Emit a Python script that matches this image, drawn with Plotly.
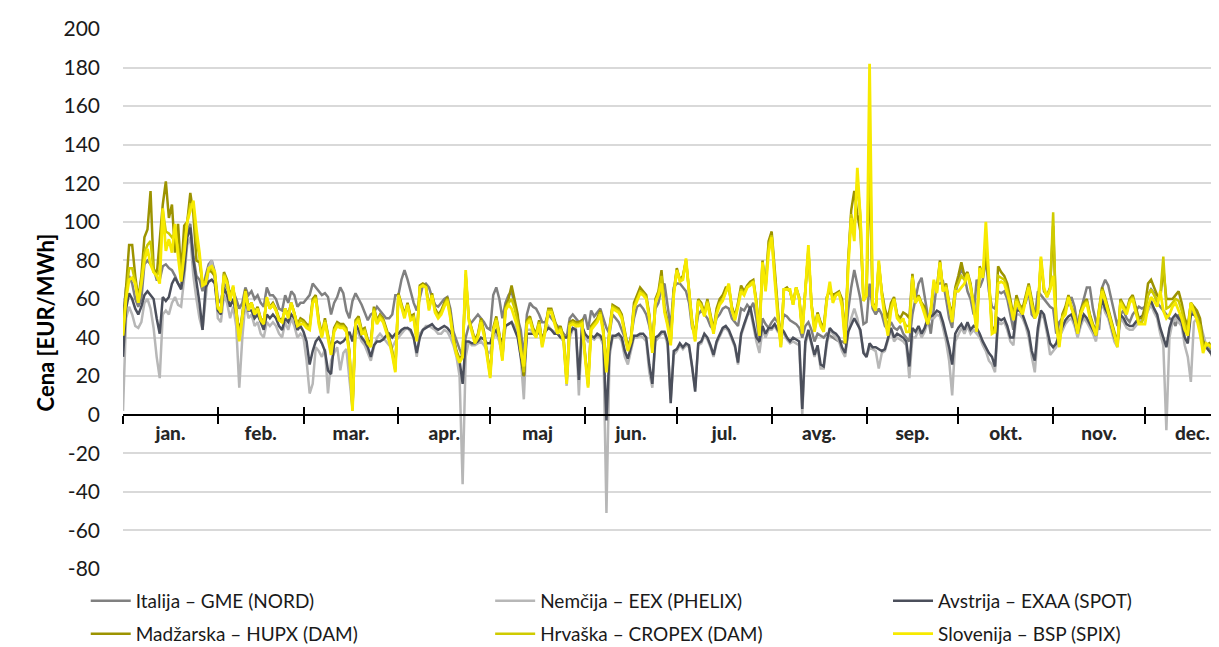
import pandas as pd
import plotly.graph_objects as go

# ---------------- data (daily prices, EUR/MWh, from 2017-01-01) ----------------
month_labels = ["jan.", "feb.", "mar.", "apr.", "maj", "jun.", "jul.", "avg.", "sep.", "okt.", "nov.", "dec."]
y_ticks = list(range(-80, 201, 20))
y_tick_text = [str(v) for v in y_ticks]

italija = [
    50,66,72,68,60,56,60,78,80,78,76,70,70,77,78,76,75,72,68,66,85,95,99,82,72,70,64,72,78,80,74,
    60,58,68,66,62,64,60,55,58,66,62,64,60,62,58,56,66,62,62,60,55,54,62,58,64,62,56,58,
    58,60,62,68,66,64,62,63,61,52,58,61,66,63,54,50,59,63,60,57,53,49,52,53,56,54,52,50,50,52,62,
    62,70,75,70,64,58,54,60,67,68,66,61,57,56,58,60,61,55,43,38,34,30,40,46,48,50,52,50,48,45,
    44,62,66,60,50,58,62,64,56,50,44,30,52,58,56,55,52,48,48,52,50,48,46,44,42,40,50,52,50,48,48,
    52,44,54,51,53,55,50,45,42,52,50,48,44,40,34,40,50,56,57,55,52,46,38,55,58,66,68,55,45,66,
    68,68,66,64,58,45,42,52,54,52,50,46,44,50,52,55,56,55,50,48,46,55,54,57,55,58,50,37,50,47,45,
    48,50,48,44,52,51,49,48,47,45,40,46,48,44,38,42,41,40,42,41,40,39,38,38,37,54,66,75,68,60,47,
    48,68,55,52,55,52,46,44,48,45,44,46,42,40,38,52,60,68,71,62,52,42,55,68,68,69,60,50,45,62,
    70,76,72,64,60,52,70,66,70,81,64,56,55,64,63,64,60,52,44,55,56,56,58,64,52,50,64,62,60,58,56,
    55,42,48,50,54,58,61,56,46,54,60,66,66,55,48,44,66,70,67,60,52,46,52,54,50,48,52,54,56,55,
    56,62,65,63,58,56,54,52,50,49,46,52,48,44,46,52,56,52,44,38,36,34,30,26,21,22,
]

nemcija = [
    2,50,56,52,46,45,48,58,60,55,45,30,19,52,54,52,58,61,57,56,71,88,92,72,60,50,44,62,76,80,70,
    50,48,62,58,50,56,46,14,40,58,50,52,46,48,42,40,48,46,48,46,42,40,48,44,50,46,40,42,
    40,28,11,16,35,33,30,34,11,28,32,35,23,32,34,20,3,44,42,38,36,32,28,35,40,42,40,38,36,35,38,
    40,42,44,45,43,40,30,42,44,46,46,45,44,42,42,44,43,40,36,30,20,-36,30,38,36,36,37,38,36,33,
    32,40,42,38,30,46,47,48,46,42,30,8,44,44,43,41,44,38,43,46,44,43,42,40,38,15,40,44,45,10,44,
    40,38,40,39,41,40,36,-51,30,40,40,41,38,30,26,33,40,40,41,40,38,22,14,38,40,42,42,36,8,31,
    33,36,34,36,35,24,14,36,37,41,39,35,30,37,41,44,45,43,39,35,26,41,46,51,54,46,38,32,44,40,44,
    44,46,43,44,42,39,37,38,37,36,0,36,43,36,30,35,24,24,36,44,42,40,38,33,30,42,50,55,50,42,33,
    30,35,34,33,24,32,33,38,44,38,40,39,38,36,19,40,40,44,40,43,48,50,50,52,51,45,38,28,10,38,
    42,45,42,46,42,44,42,40,36,33,28,26,22,48,47,48,44,38,36,52,52,50,46,40,30,22,42,52,50,42,31,
    33,35,40,44,47,49,50,46,40,46,50,48,45,42,38,50,58,53,50,44,38,35,50,48,45,44,44,46,48,49,
    50,54,57,53,50,42,36,-8,40,48,50,48,46,36,30,17,48,50,48,42,36,33,31,28,25,23,
]

avstrija = [
    30,55,63,60,55,52,56,62,64,62,60,50,42,61,59,61,68,71,68,65,75,92,97,80,69,58,44,66,69,70,68,
    54,52,66,62,56,60,52,44,50,60,54,54,50,52,48,44,52,50,52,50,46,44,50,48,52,50,44,46,
    43,38,26,33,38,40,37,33,23,21,37,38,37,38,40,43,38,47,44,40,38,35,30,36,38,38,39,41,42,40,42,
    42,44,45,45,44,40,32,40,44,45,46,47,45,44,45,46,45,43,40,32,28,16,38,38,37,37,38,40,39,37,
    37,42,44,40,38,46,47,48,44,40,30,20,42,42,42,41,43,40,43,45,44,42,42,40,40,40,42,45,44,18,46,
    42,40,41,40,42,41,38,-3,33,41,41,42,40,33,29,35,41,41,42,42,40,26,16,40,41,43,43,38,6,33,
    34,37,35,37,36,25,12,37,38,42,40,36,31,38,42,45,46,44,40,36,27,42,47,52,56,48,40,38,46,42,45,
    45,47,44,45,43,40,38,40,39,38,3,38,44,38,31,36,26,25,38,45,43,42,40,35,32,43,47,50,47,44,32,
    30,37,35,35,34,33,34,40,45,40,42,41,40,38,25,45,43,46,42,45,50,51,52,54,53,48,42,35,26,42,
    45,47,44,48,44,46,45,42,38,35,32,30,25,50,49,50,46,40,40,54,54,52,48,43,33,28,45,54,52,45,37,
    35,37,42,46,49,51,52,48,42,48,52,50,47,44,41,52,60,55,52,46,40,37,52,50,47,46,46,48,50,51,
    52,56,59,55,52,45,40,35,45,50,52,50,48,40,37,52,52,50,44,38,35,33,31,28,24,22,
]

madzarska = [
    44,66,88,88,72,60,72,92,96,116,76,72,90,109,121,102,109,84,99,73,98,100,115,104,80,79,68,70,75,74,72,
    56,54,74,70,62,66,55,40,52,65,56,58,53,56,50,48,60,56,58,55,50,49,55,52,58,53,47,50,
    49,47,46,60,62,49,42,50,42,33,45,48,47,47,45,33,4,49,51,44,45,39,37,56,49,52,50,45,40,33,24,
    63,58,52,58,51,52,40,67,68,67,56,63,55,52,54,58,61,52,40,33,29,31,72,50,45,39,42,50,43,32,
    21,45,51,42,30,56,60,67,60,52,35,20,49,51,45,42,49,37,45,55,55,49,44,46,40,18,48,49,48,48,49,
    32,16,46,48,50,54,44,24,45,57,56,55,52,44,35,40,58,62,66,64,62,52,34,60,64,75,56,48,38,64,
    76,70,72,80,64,49,40,60,58,53,60,52,44,55,60,62,66,66,56,51,58,67,64,67,69,70,59,42,80,66,90,
    95,75,56,36,65,66,64,58,66,61,44,65,85,58,45,53,48,45,61,64,62,63,64,60,40,80,106,116,104,95,60,
    62,130,58,55,78,64,55,50,58,61,52,50,53,52,50,73,58,62,58,56,47,54,68,66,80,65,68,58,52,66,
    72,79,72,74,68,58,46,77,72,82,70,46,43,77,74,72,68,60,51,62,57,55,62,68,60,52,55,80,64,62,66,
    98,50,38,52,56,62,56,52,44,54,58,60,52,47,43,55,66,61,55,49,42,37,60,57,54,60,62,56,50,50,
    56,68,70,66,62,60,76,60,60,60,62,64,58,50,46,58,56,54,50,38,36,37,34,31,30,29,
]

hrvaska = [
    42,62,76,76,69,58,69,84,88,90,74,72,75,106,95,94,92,94,86,70,88,100,109,108,90,82,68,69,75,76,73,
    55,54,73,69,60,66,55,39,51,64,55,58,52,55,50,48,60,55,57,54,49,48,55,51,58,53,46,49,
    48,46,45,59,61,48,41,49,41,32,44,47,46,46,44,32,3,48,50,43,44,38,36,55,48,51,49,44,39,32,23,
    62,57,51,57,50,51,39,66,67,66,55,62,54,51,53,57,60,51,39,32,28,30,73,50,44,38,41,49,42,31,
    20,44,50,41,29,55,58,60,55,48,34,22,48,50,44,41,48,36,44,54,54,48,43,45,39,17,47,48,47,47,48,
    31,15,45,47,49,53,43,23,44,56,55,54,51,43,34,39,56,60,64,63,61,51,33,59,63,72,54,47,37,63,
    75,70,71,80,63,48,39,59,57,52,59,51,43,53,58,60,64,67,55,50,57,65,63,66,68,69,58,41,79,65,88,
    93,72,53,35,65,65,64,57,66,60,43,64,86,57,44,52,47,44,60,66,60,62,63,58,38,78,104,95,122,103,59,
    62,150,57,54,79,63,52,45,56,60,51,49,49,46,46,72,58,61,57,54,47,54,69,64,79,64,67,57,50,65,
    68,72,70,73,67,57,44,76,71,90,70,44,43,72,71,70,65,58,50,60,56,53,60,67,58,51,54,81,65,61,65,
    105,48,36,51,54,61,55,51,43,53,57,59,51,46,42,54,65,60,54,48,41,36,59,56,53,59,61,54,48,48,
    52,62,65,62,59,62,82,55,56,58,60,59,54,47,43,58,54,51,46,35,36,36,34,30,29,28,
]

slovenija = [
    41,60,70,71,68,58,68,80,86,78,74,72,68,107,85,91,84,99,82,69,83,100,106,111,96,84,67,68,76,77,74,
    56,53,72,68,59,67,54,38,50,64,54,58,52,55,49,47,61,55,57,54,49,48,55,50,58,52,46,47,
    47,45,44,58,60,47,40,48,40,31,43,46,45,45,43,31,2,47,49,42,43,37,35,54,47,50,48,43,38,31,22,
    62,56,50,57,49,50,38,66,67,66,54,62,53,50,52,56,59,50,38,31,27,30,75,49,43,37,40,48,41,30,
    19,43,49,40,28,54,57,55,50,45,33,25,47,49,43,40,47,35,43,53,53,47,42,44,38,16,46,47,46,46,47,
    30,14,44,46,48,52,42,22,43,55,54,53,50,42,33,38,55,59,63,62,60,50,32,58,62,68,53,46,36,62,
    75,69,70,81,63,47,38,59,56,51,58,50,42,52,57,59,63,68,54,49,56,64,62,66,67,69,57,41,79,64,84,
    92,70,50,35,65,65,65,57,66,60,42,64,88,57,43,52,46,43,59,69,58,62,63,56,37,76,102,90,128,102,59,
    62,182,57,54,80,62,50,41,54,60,50,48,50,43,43,71,58,61,57,52,47,54,70,63,79,64,66,57,48,64,
    64,66,68,73,66,56,43,76,71,100,71,42,43,68,69,68,63,57,49,59,55,52,59,66,57,50,53,82,66,61,65,
    72,47,35,50,52,61,55,50,42,52,56,58,50,45,41,53,64,59,53,47,40,35,58,55,52,58,60,53,47,47,
    47,56,61,59,56,64,54,50,52,56,58,54,50,44,41,58,53,49,42,32,37,36,35,30,28,27,
]

series = [
    ("Italija – GME (NORD)", italija, "#808080", 2.5),
    ("Nemčija – EEX (PHELIX)", nemcija, "#b7b7b7", 2.5),
    ("Avstrija – EXAA (SPOT)", avstrija, "#4b4f5b", 2.5),
    ("Madžarska – HUPX (DAM)", madzarska, "#9c9300", 2.5),
    ("Hrvaška – CROPEX (DAM)", hrvaska, "#cfcb00", 2.5),
    ("Slovenija – BSP (SPIX)", slovenija, "#f7ea00", 2.8),
]

start = pd.Timestamp("2017-01-01")
month_starts = pd.date_range("2017-01-01", periods=12, freq="MS")
month_ends = pd.date_range("2017-02-01", periods=12, freq="MS")
month_mids = month_starts + (month_ends - month_starts) / 2
x_end = start + pd.Timedelta(days=358.2)

FONT = "Lato"
fig = go.Figure()

# legend placement (one legend per entry so the grid matches the original)
leg_x = [-0.034, 0.335, 0.698]
leg_y = [-0.059, -0.12]
legend_names = ["legend", "legend2", "legend3", "legend4", "legend5", "legend6"]

for i, (name, vals, color, w) in enumerate(series):
    xs = pd.date_range(start, periods=len(vals), freq="D")
    fig.add_trace(go.Scatter(
        x=xs, y=vals, mode="lines", name=name,
        line=dict(color=color, width=w),
        legend=legend_names[i],
        hoverinfo="skip",
    ))

# invisible helper trace on the overlay axis that carries the upward tick marks
fig.add_trace(go.Scatter(x=[start], y=[None], xaxis="x2", mode="lines",
                         showlegend=False, hoverinfo="skip"))

zero_pos = (0 - y_ticks[0]) / (y_ticks[-1] - y_ticks[0])

# the page body adds an 8px offset, so the figure is 8px smaller on each side
layout = dict(
    width=1211, height=639,
    margin=dict(l=115, r=0, t=21, b=78, autoexpand=False),
    paper_bgcolor="white", plot_bgcolor="white",
    font=dict(family=FONT, color="#1a1a1a"),
    showlegend=True,
    yaxis=dict(
        range=[y_ticks[0], y_ticks[-1]], tickvals=y_ticks, ticktext=y_tick_text, ticks="",
        showgrid=True, gridcolor="#d9d9d9", gridwidth=2, zeroline=False,
        showline=False, tickfont=dict(size=21, family=FONT, color="#1a1a1a"),
        ticklabelstandoff=22, automargin=False,
    ),
    xaxis=dict(
        type="date", range=[start, x_end], anchor="free", position=zero_pos,
        tickvals=month_mids, ticktext=month_labels, ticks="",
        tickfont=dict(size=19, family=FONT, color="#262626", weight=900),
        showline=True, linecolor="#000000", linewidth=2, showgrid=False, zeroline=False,
        ticklabelstandoff=1, automargin=False,
        minor=dict(tickmode="array", tickvals=month_starts, ticks="outside", ticklen=8,
                   tickwidth=2, tickcolor="#000000", showgrid=False),
    ),
    xaxis2=dict(
        type="date", range=[start, x_end], overlaying="x", anchor="free", position=zero_pos,
        tickvals=month_starts, ticks="inside", ticklen=8, tickwidth=2, tickcolor="#000000",
        showticklabels=False, showline=False, showgrid=False, zeroline=False, automargin=False,
    ),
    annotations=[dict(
        text="<b>Cena [EUR/MWh]</b>", textangle=-90, xref="paper", yref="paper",
        x=-0.071, y=0.457, showarrow=False, font=dict(size=22, family=FONT, color="#000000"),
        xanchor="center", yanchor="middle",
    )],
)

for i, ln in enumerate(legend_names):
    layout[ln] = dict(
        x=leg_x[i % 3], y=leg_y[i // 3], xanchor="left", yanchor="middle",
        orientation="v", bgcolor="rgba(0,0,0,0)", borderwidth=0,
        font=dict(size=19, family=FONT, color="#1a1a1a"), itemwidth=40,
    )

fig.update_layout(**layout)
fig.write_html("out.html")
